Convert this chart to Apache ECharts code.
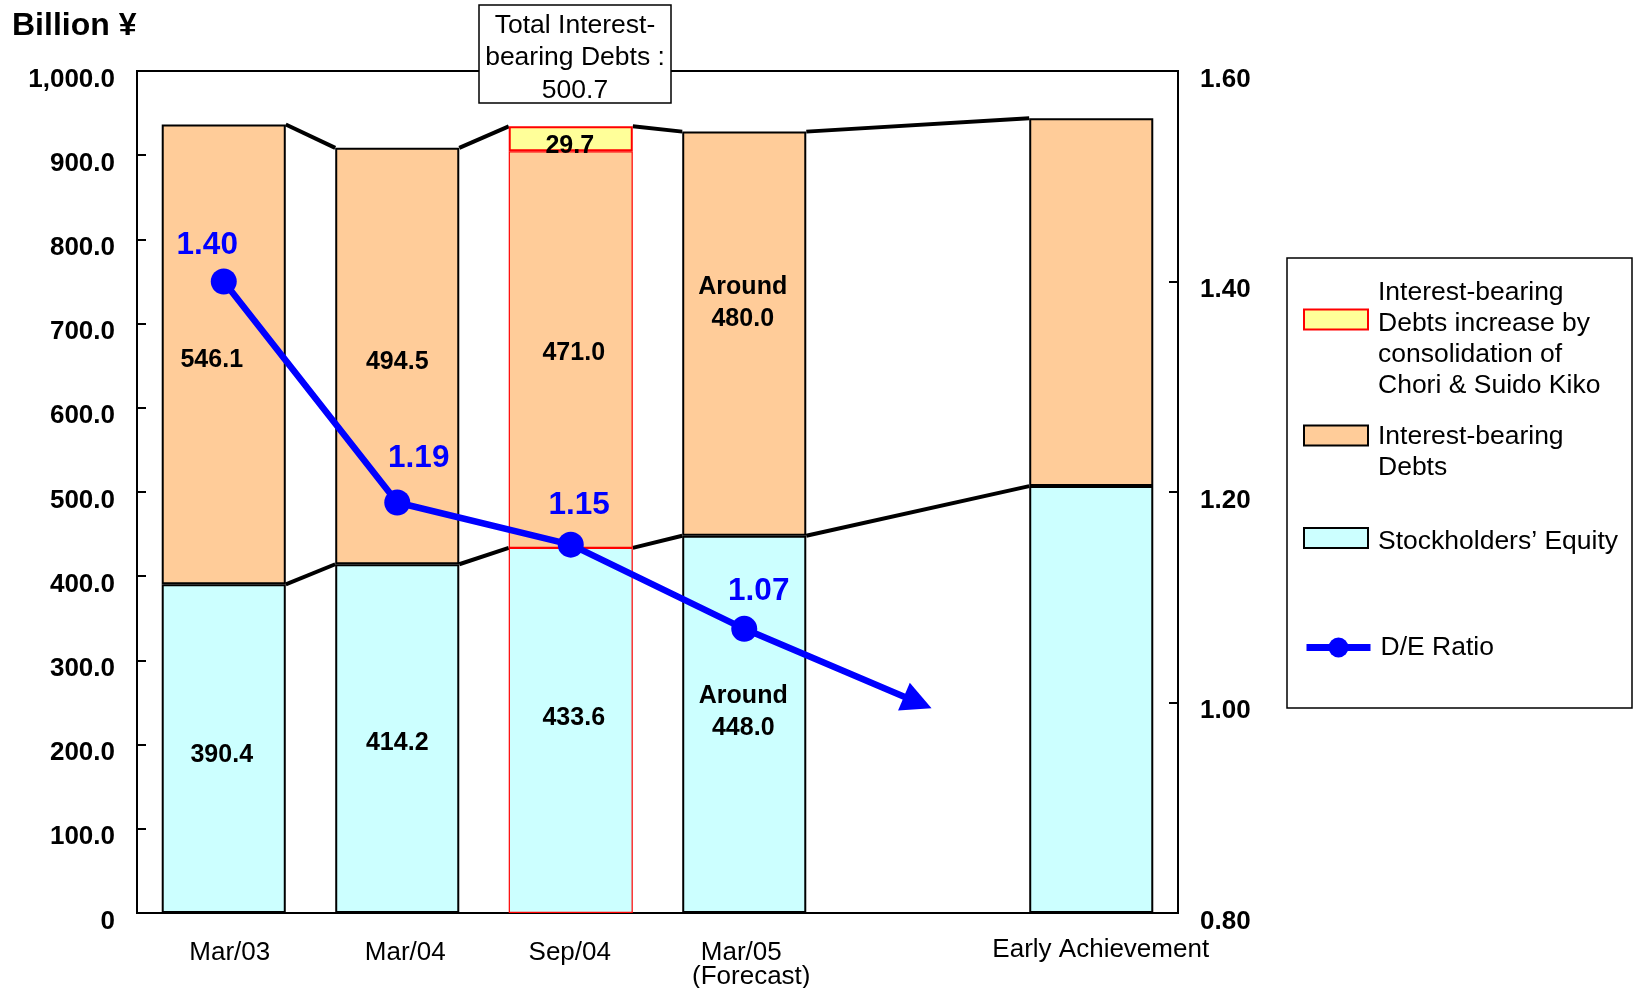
<!DOCTYPE html>
<html>
<head>
<meta charset="utf-8">
<script src="https://cdn.jsdelivr.net/npm/echarts@6/dist/echarts.min.js"></script>
<style>
html,body{margin:0;padding:0;background:#fff;}
#c{width:1637px;height:988px;}
</style>
</head>
<body>
<div id="c"></div>
<script>
// ---------------- data ----------------
const categories = ['Mar/03', 'Mar/04', 'Sep/04', 'Mar/05\n(Forecast)', '', 'Early Achievement'];
const equity = [390.4, 414.2, 433.6, 448.0, null, 507];
const debts = [546.1, 494.5, 471.0, 480.0, null, 437];
const debtIncrease = [null, null, 29.7, null, null, null];
const deRatio = [1.40, 1.19, 1.15, 1.07, 1.00, null];
const labelPrefix = ['', '', '', 'Around', '', ''];
const showBarLabel = [true, true, true, true, false, false];
const connectorPairs = [[0, 1], [1, 2], [2, 3], [3, 5]];
const nameEquity = 'Stockholders\u2019 Equity';
const nameDebt = 'Interest-bearing\nDebts';
const nameInc = 'Interest-bearing\nDebts increase by\nconsolidation of\nChori & Suido Kiko';
const nameDE = 'D/E Ratio';
const annotationText = 'Total Interest-\nbearing Debts :\n500.7';
const unitText = 'Billion \u00A5';

// ---------------- styling ----------------
const FONT = '"Liberation Sans", Arial, Helvetica, sans-serif';
const debtLabelOffset = [[-12, 6], [0, 6.5], [3, 3], [-1.5, -31], [0, 0], [0, 0]];
const equityLabelOffset = [[-2, 6], [0, 4.5], [3, -12], [-1, -12.5], [0, 0], [0, 0]];
const incLabelOffset = [0, 0, [-1, 7.5], 0, 0, 0];
const deLabelOffset = [[-16.5, -36], [21.5, -44], [8.3, -39.5], [14.5, -37.5], [0, 0], [0, 0]];
const sepIdx = 2;
const arrowIdx = 4;
const xShift = [[6], [8], [-1], [-3, 7], [0], [9.5]];
const BAR_RATIO = 0.715;

function fmt1(v) { return v.toFixed(1); }

const equityData = equity.map((v, i) => ({
  value: v,
  itemStyle: i === sepIdx ? { borderColor: '#FF0000', borderWidth: 1.2 } : undefined,
  label: { show: showBarLabel[i], offset: equityLabelOffset[i] }
}));
const debtData = debts.map((v, i) => ({
  value: v,
  itemStyle: i === sepIdx ? { borderColor: '#FF0000', borderWidth: 1.2 } : undefined,
  label: { show: showBarLabel[i], offset: debtLabelOffset[i] }
}));
const incData = debtIncrease.map((v, i) => ({
  value: v,
  label: { show: v != null, offset: incLabelOffset[i] || [0, 0] }
}));
const deData = deRatio.map((v, i) => {
  if (i === arrowIdx) {
    return { value: v, symbol: 'triangle', symbolSize: [30, 30], symbolRotate: -113, label: { show: false } };
  }
  return { value: v, label: { show: v != null, offset: deLabelOffset[i] } };
});

const barLabel = {
  show: true, position: 'inside', color: '#000', fontFamily: FONT, fontWeight: 'bold',
  fontSize: 25, lineHeight: 32,
  formatter: p => (labelPrefix[p.dataIndex] ? labelPrefix[p.dataIndex] + '\n' : '') + fmt1(p.value)
};

// x axis rich label styles
const rich = {};
xShift.forEach((arr, i) => {
  arr.forEach((d, j) => {
    rich['c' + i + '_' + j] = {
      fontFamily: FONT, fontSize: 26, color: '#000',
      lineHeight: (i === 5 ? 17 : 24),
      padding: d > 0 ? [0, 0, 0, 2 * d] : [0, -2 * d, 0, 0]
    };
  });
});

function totalAt(i) { return (equity[i] || 0) + (debts[i] || 0) + (debtIncrease[i] || 0); }

// legend text: a leading spacer line shifts the text relative to the icon
const legendRich = {
  t: { fontFamily: FONT, fontSize: 26.5, lineHeight: 31, color: '#000' },
  s39: { fontSize: 1, lineHeight: 40 },
  s33: { fontSize: 1, lineHeight: 34 },
  s7: { fontSize: 1, lineHeight: 8 }
};
function legendFmt(spacer) {
  return name => (spacer ? '{' + spacer + '| }\n' : '') + name.split('\n').map(l => '{t|' + l + '}').join('\n');
}
const legendText = { fontFamily: FONT, fontSize: 26.5, lineHeight: 31, color: '#000', padding: [0, 0, 0, 5], rich: legendRich };

const chart = echarts.init(document.getElementById('c'), null, { renderer: 'canvas' });
chart.setOption({
  animation: false,
  backgroundColor: '#fff',
  grid: { left: 137, right: 459, top: 71, bottom: 75, show: true, borderColor: '#000', borderWidth: 2,
          containLabel: false, outerBoundsMode: 'none' },
  xAxis: {
    type: 'category', data: categories, boundaryGap: true,
    axisLine: { lineStyle: { color: '#000', width: 2 } },
    axisTick: { show: false },
    axisLabel: {
      interval: 0, margin: 28, color: '#000', fontFamily: FONT, fontSize: 26, lineHeight: 24,
      formatter: (val, idx) => {
        if (!val) return '';
        return val.split('\n').map((ln, j) => '{c' + idx + '_' + j + '|' + ln + '}').join('\n');
      },
      rich: rich
    },
    splitLine: { show: false }
  },
  yAxis: [
    {
      type: 'value', min: 0, max: 1000, interval: 100, position: 'left',
      axisLine: { show: true, lineStyle: { color: '#000', width: 2 } },
      axisTick: { show: true, inside: true, length: 9, lineStyle: { color: '#000', width: 2 } },
      axisLabel: {
        margin: 22, color: '#000', fontFamily: FONT, fontWeight: 'bold', fontSize: 26,
        verticalAlign: 'top', lineHeight: 17,
        formatter: v => v === 0 ? '0' : v.toLocaleString('en-US', { minimumFractionDigits: 1, maximumFractionDigits: 1 })
      },
      splitLine: { show: false }
    },
    {
      type: 'value', min: 0.8, max: 1.6, interval: 0.2, position: 'right',
      axisLine: { show: true, lineStyle: { color: '#000', width: 2 } },
      axisTick: { show: true, inside: true, length: 9, lineStyle: { color: '#000', width: 2 } },
      axisLabel: {
        margin: 22, color: '#000', fontFamily: FONT, fontWeight: 'bold', fontSize: 26,
        verticalAlign: 'top', lineHeight: 17,
        formatter: v => v.toFixed(2)
      },
      splitLine: { show: false }
    }
  ],
  legend: [
    { data: [nameInc], left: 1303, top: 237.5, padding: 0, itemWidth: 64, itemHeight: 20, icon: 'rect',
      selectedMode: false, formatter: legendFmt('s39'), textStyle: legendText },
    { data: [nameDebt], left: 1303, top: 387.5, padding: 0, itemWidth: 64, itemHeight: 20, icon: 'rect',
      selectedMode: false, formatter: legendFmt('s33'), textStyle: legendText },
    { data: [nameEquity], left: 1303, top: 518.5, padding: 0, itemWidth: 64, itemHeight: 20, icon: 'rect',
      selectedMode: false, formatter: legendFmt('s7'), textStyle: legendText },
    { data: [nameDE], left: 1303, top: 632, padding: 0, itemWidth: 64, itemHeight: 25,
      selectedMode: false, formatter: legendFmt(null), textStyle: legendText,
      lineStyle: { width: 7 } }
  ],
  graphic: [
    { type: 'rect', shape: { x: 1287, y: 258, width: 345, height: 450 },
      style: { fill: 'none', stroke: '#000', lineWidth: 1.5 }, z: 1 },
    { type: 'rect', shape: { x: 479, y: 5, width: 192, height: 98 },
      style: { fill: '#fff', stroke: '#000', lineWidth: 1.5 }, z: 20 },
    { type: 'text', x: 575, y: 58, z: 21,
      style: { text: annotationText, fill: '#000', font: '26.5px ' + FONT, align: 'center',
               verticalAlign: 'middle', lineHeight: 32.5 } },
    { type: 'text', x: 12, y: 26,
      style: { text: unitText, fill: '#000', font: 'bold 32px ' + FONT, align: 'left', verticalAlign: 'middle' } }
  ],
  series: [
    {
      name: 'connectors', type: 'custom', coordinateSystem: 'cartesian2d', yAxisIndex: 0, z: 1,
      silent: true,
      data: connectorPairs.map((p, k) => [k]),
      renderItem: (params, api) => {
        const pr = connectorPairs[params.dataIndex];
        const a = pr[0], b = pr[1];
        const half = api.size([1, 0])[0] * BAR_RATIO / 2;
        const t1 = api.coord([a, totalAt(a)]), t2 = api.coord([b, totalAt(b)]);
        const e1 = api.coord([a, equity[a]]), e2 = api.coord([b, equity[b]]);
        const st = { stroke: '#000', lineWidth: 4, fill: 'none' };
        return {
          type: 'group',
          children: [
            { type: 'line', shape: { x1: t1[0] + half, y1: t1[1], x2: t2[0] - half, y2: t2[1] }, style: st },
            { type: 'line', shape: { x1: e1[0] + half, y1: e1[1], x2: e2[0] - half, y2: e2[1] }, style: st }
          ]
        };
      }
    },
    {
      name: nameEquity, type: 'bar', stack: 'total', barWidth: (BAR_RATIO * 100) + '%', z: 2,
      itemStyle: { color: '#CCFFFF', borderColor: '#000', borderWidth: 2 },
      label: barLabel,
      data: equityData
    },
    {
      name: nameDebt, type: 'bar', stack: 'total', z: 2,
      itemStyle: { color: '#FFCC99', borderColor: '#000', borderWidth: 2 },
      label: barLabel,
      data: debtData
    },
    {
      name: nameInc, type: 'bar', stack: 'total', z: 2,
      itemStyle: { color: '#FFFF99', borderColor: '#FF0000', borderWidth: 2 },
      label: Object.assign({}, barLabel, { formatter: p => fmt1(p.value) }),
      data: incData
    },
    {
      name: nameDE, type: 'line', yAxisIndex: 1, z: 10,
      symbol: 'circle', symbolSize: 26,
      color: '#0000FF',
      itemStyle: { color: '#0000FF' },
      lineStyle: { color: '#0000FF', width: 6.5 },
      label: {
        show: true, position: 'inside', color: '#0000FF', fontFamily: FONT, fontWeight: 'bold', fontSize: 31.5,
        formatter: p => p.value.toFixed(2)
      },
      data: deData
    }
  ]
});
</script>
</body>
</html>
